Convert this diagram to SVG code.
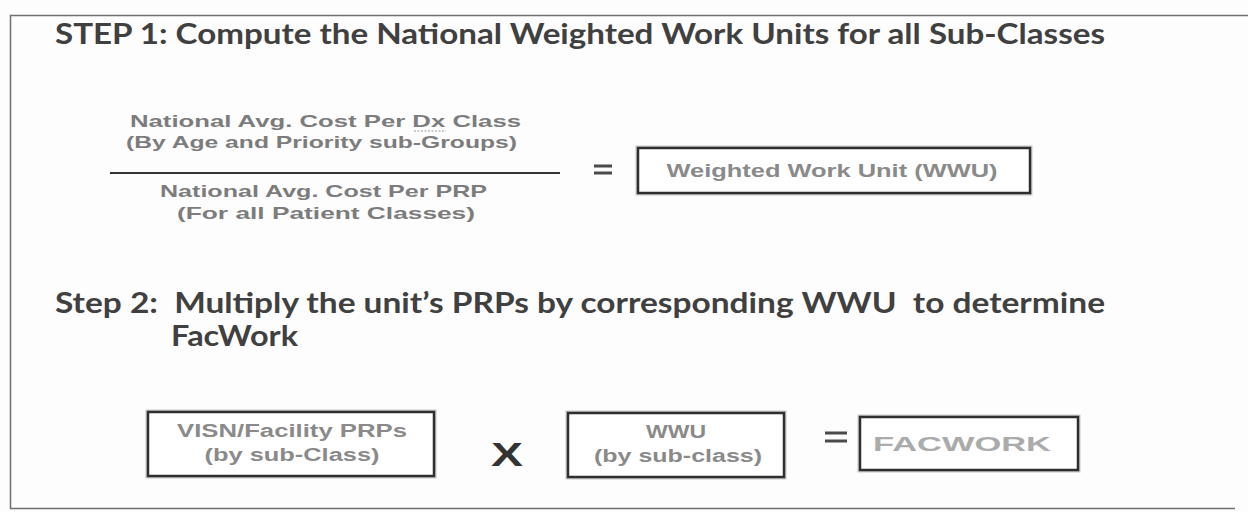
<svg xmlns="http://www.w3.org/2000/svg" width="1248" height="512" viewBox="0 0 1248 512">
<style>
.head{font-family:Lato,"Open Sans","Liberation Sans",sans-serif;font-weight:700;font-size:29px;fill:#404040;white-space:pre}
.frac{font-family:"Liberation Sans",Arial,sans-serif;font-weight:700;font-size:17px;fill:#7c7c7c;text-anchor:middle}
.btxt{font-family:"Liberation Sans",Arial,sans-serif;font-weight:700;font-size:18px;fill:#8a8a8a;text-anchor:middle}
.box{fill:#fff;stroke:#2e2e2e;stroke-width:2.5}
.halo{fill:none;stroke:#c8c8c8;stroke-width:5}
.eq{stroke:#4a4a4a;stroke-width:3}
</style>
<rect width="1248" height="512" fill="#fdfdfd"/>
<g id="frame"><path d="M1248 15.5 H10.5 V508.5 H1235" fill="none" stroke="#707070" stroke-width="1.5"/></g>
<g id="title"><text class="head" x="55" y="44" textLength="1050" lengthAdjust="spacingAndGlyphs">STEP 1: Compute the National Weighted Work Units for all Sub-Classes</text></g>
<g id="fraction">
<text class="frac" x="325.5" y="127" textLength="391" lengthAdjust="spacingAndGlyphs">National Avg. Cost Per Dx Class</text>
<path d="M414 131 h32" stroke="#9a9a9a" stroke-width="1.2" stroke-dasharray="2 1.5"/>
<text class="frac" x="321.5" y="148" textLength="391" lengthAdjust="spacingAndGlyphs">(By Age and Priority sub-Groups)</text>
<line x1="110" y1="173" x2="560" y2="173" stroke="#333" stroke-width="2"/>
<text class="frac" x="323.5" y="197" textLength="327" lengthAdjust="spacingAndGlyphs">National Avg. Cost Per PRP</text>
<text class="frac" x="326" y="219" textLength="298" lengthAdjust="spacingAndGlyphs">(For all Patient Classes)</text>
</g>
<g id="eq1"><path class="eq" d="M594 166 h18 M594 173 h18"/></g>
<g id="wwu-result">
<rect class="halo" x="638" y="148" width="392" height="45"/>
<rect class="box" x="638" y="148" width="392" height="45"/>
<text class="btxt" x="832" y="177" textLength="331" lengthAdjust="spacingAndGlyphs">Weighted Work Unit (WWU)</text>
</g>
<g id="step2">
<text class="head" x="55" y="313" textLength="1050" lengthAdjust="spacingAndGlyphs">Step 2:  Multiply the unit’s PRPs by corresponding WWU  to determine</text>
<text class="head" x="171" y="346" textLength="127" lengthAdjust="spacingAndGlyphs">FacWork</text>
</g>
<g id="visn-prps">
<rect class="halo" x="148" y="412" width="286" height="64"/>
<rect class="box" x="148" y="412" width="286" height="64"/>
<text class="btxt" x="292" y="437" textLength="230" lengthAdjust="spacingAndGlyphs">VISN/Facility PRPs</text>
<text class="btxt" x="292" y="461" textLength="175" lengthAdjust="spacingAndGlyphs">(by sub-Class)</text>
</g>
<g id="times"><text x="507" y="466" font-family="Liberation Sans,Arial,sans-serif" font-weight="700" font-size="34" fill="#333" text-anchor="middle" textLength="32" lengthAdjust="spacingAndGlyphs">X</text></g>
<g id="wwu-sub">
<rect class="halo" x="568" y="413" width="216" height="64"/>
<rect class="box" x="568" y="413" width="216" height="64"/>
<text class="btxt" x="676" y="438" textLength="60" lengthAdjust="spacingAndGlyphs">WWU</text>
<text class="btxt" x="678" y="462" textLength="168" lengthAdjust="spacingAndGlyphs">(by sub-class)</text>
</g>
<g id="eq2"><path class="eq" d="M825 433 h22 M825 441 h22"/></g>
<g id="facwork">
<rect class="halo" x="860" y="417" width="218" height="53"/>
<rect class="box" x="860" y="417" width="218" height="53"/>
<text class="btxt" x="962" y="451" style="fill:#ababab;font-size:21px" textLength="178" lengthAdjust="spacingAndGlyphs">FACWORK</text>
</g>
</svg>
